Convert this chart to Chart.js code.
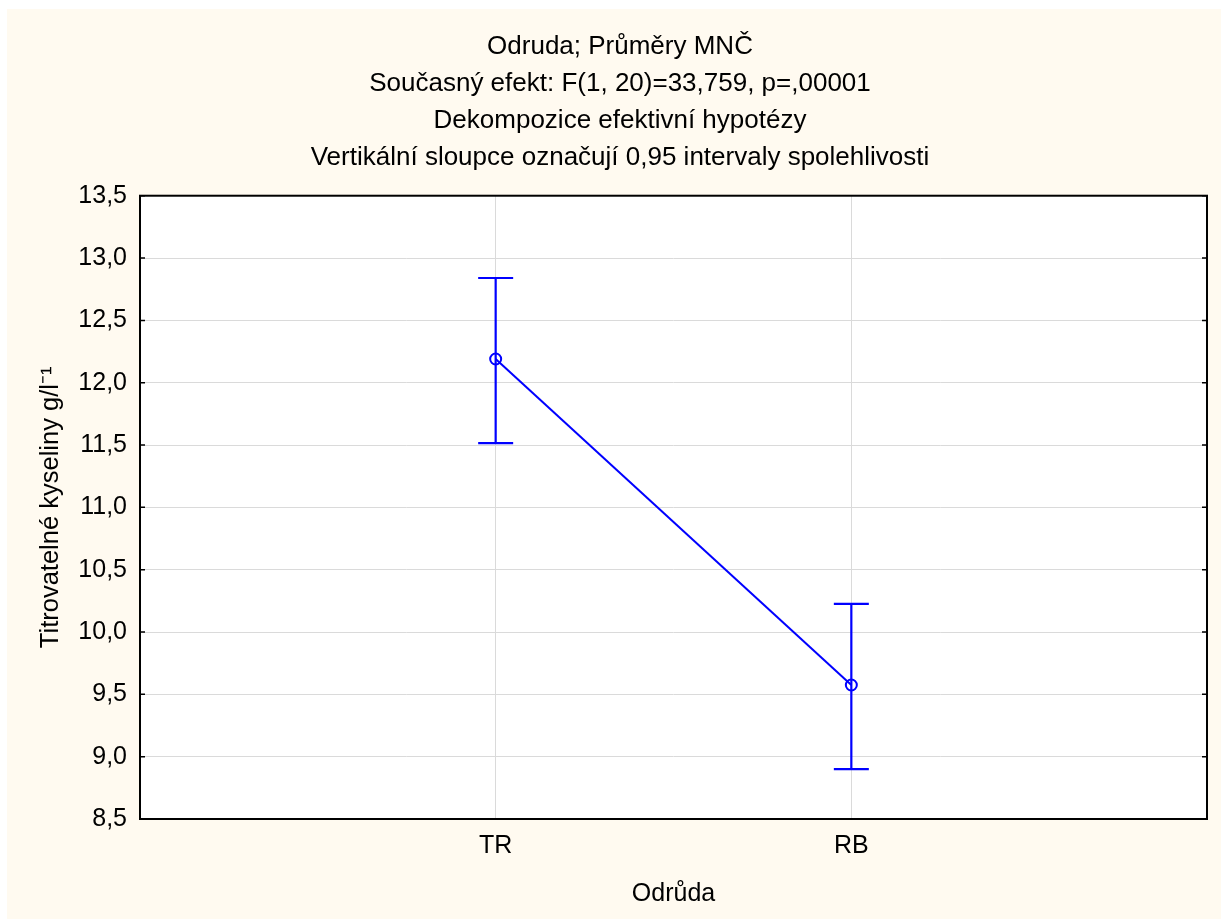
<!DOCTYPE html>
<html>
<head>
<meta charset="utf-8">
<script src="https://cdn.jsdelivr.net/npm/chart.js@4.4.1/dist/chart.umd.min.js"></script>
<style>
    body { margin: 0; background: #ffffff; }
    #wrap { position: absolute; left: 7px; top: 9px; width: 1214px; height: 910px; background: #fffaf0; }
</style>
</head>
<body>
<div id="wrap"><canvas id="means-chart" width="1214" height="910"></canvas></div>
<script>
const categories = ['TR', 'RB'];
const means = [12.19, 9.575];
const upper = [12.84, 10.225];
const lower = [11.515, 8.90];
const yTicks = [8.5, 9.0, 9.5, 10.0, 10.5, 11.0, 11.5, 12.0, 12.5, 13.0, 13.5];
const titleLines = [
    'Odruda; Průměry MNČ',
    'Současný efekt: F(1, 20)=33,759, p=,00001',
    'Dekompozice efektivní hypotézy',
    'Vertikální sloupce označují 0,95 intervaly spolehlivosti'
];

const blue = '#0000ff';
const fontFamily = '"Liberation Sans", Arial, sans-serif';

// white plot area, error bars, frame with inner ticks
const plotDecor = {
    id: 'plotDecor',
    beforeDraw(chart) {
        const {ctx, chartArea: a} = chart;
        ctx.save();
        ctx.fillStyle = '#ffffff';
        ctx.fillRect(a.left, a.top, a.right - a.left, a.bottom - a.top);
        ctx.restore();
    },
    afterDatasetsDraw(chart) {
        const {ctx, scales} = chart;
        const cap = 17.5;
        ctx.save();
        ctx.strokeStyle = blue;
        ctx.lineWidth = 2.2;
        categories.forEach((c, i) => {
            const x = scales.x.getPixelForValue(i + 1);
            const yt = scales.y.getPixelForValue(upper[i]);
            const yb = scales.y.getPixelForValue(lower[i]);
            ctx.beginPath();
            ctx.moveTo(x, yt); ctx.lineTo(x, yb);
            ctx.moveTo(x - cap, yt); ctx.lineTo(x + cap, yt);
            ctx.moveTo(x - cap, yb); ctx.lineTo(x + cap, yb);
            ctx.stroke();
        });
        ctx.restore();
    },
    afterDraw(chart) {
        const {ctx, chartArea: a, scales} = chart;
        ctx.save();
        ctx.strokeStyle = '#000000';
        ctx.lineWidth = 2;
        ctx.strokeRect(a.left, a.top, a.right - a.left, a.bottom - a.top);
        ctx.lineWidth = 1.5;
        ctx.beginPath();
        yTicks.forEach(v => {
            const y = scales.y.getPixelForValue(v);
            ctx.moveTo(a.left, y); ctx.lineTo(a.left + 5, y);
            ctx.moveTo(a.right, y); ctx.lineTo(a.right - 5, y);
        });
        ctx.stroke();
        ctx.restore();
    }
};

document.addEventListener("DOMContentLoaded", () => {
    const canvas = document.getElementById('means-chart');
    new Chart(canvas, {
        type: 'line',
        data: {
            datasets: [
                {
                    label: 'Průměry',
                    data: means.map((m, i) => ({x: i + 1, y: m})),
                    borderColor: blue,
                    borderWidth: 2,
                    pointRadius: 5.5,
                    pointBorderWidth: 2,
                    pointBorderColor: blue,
                    pointBackgroundColor: 'rgba(0,0,0,0)',
                    tension: 0
                }
            ]
        },
        options: {
            responsive: false,
            animation: false,
            layout: {
                padding: {left: 26, right: 14, top: 0, bottom: 0}
            },
            plugins: {
                legend: {display: false},
                tooltip: {enabled: false},
                title: {
                    display: true,
                    text: titleLines,
                    color: '#000000',
                    font: {family: fontFamily, size: 26, weight: 'normal', lineHeight: 1.43},
                    padding: {top: 19, bottom: 19}
                }
            },
            scales: {
                x: {
                    type: 'linear',
                    min: 0,
                    max: 3,
                    afterFit: s => { s.height = 100; },
                    afterBuildTicks: s => { s.ticks = [0, 1, 2, 3].map(v => ({value: v})); },
                    ticks: {
                        padding: 12,
                        color: '#000000',
                        font: {family: fontFamily, size: 25},
                        maxRotation: 0,
                        callback: v => categories[v - 1] || ''
                    },
                    grid: {color: '#dadada', lineWidth: 1, drawTicks: false},
                    border: {display: false},
                    title: {
                        display: true,
                        text: 'Odrůda',
                        color: '#000000',
                        font: {family: fontFamily, size: 25},
                        padding: {top: 0, bottom: 10}
                    }
                },
                y: {
                    min: 8.5,
                    max: 13.5,
                    afterFit: s => { s.width = 107; },
                    afterBuildTicks: s => { s.ticks = yTicks.map(v => ({value: v})); },
                    ticks: {
                        padding: 13,
                        color: '#000000',
                        font: {family: fontFamily, size: 25},
                        callback: v => v.toFixed(1).replace('.', ',')
                    },
                    grid: {color: '#dadada', lineWidth: 1, drawTicks: false},
                    border: {display: false},
                    title: {
                        display: true,
                        text: 'Titrovatelné kyseliny g/l⁻¹',
                        color: '#000000',
                        font: {family: fontFamily, size: 25.5},
                        padding: {top: 3, bottom: 0}
                    }
                }
            }
        },
        plugins: [plotDecor]
    });
});
</script>
</body>
</html>
